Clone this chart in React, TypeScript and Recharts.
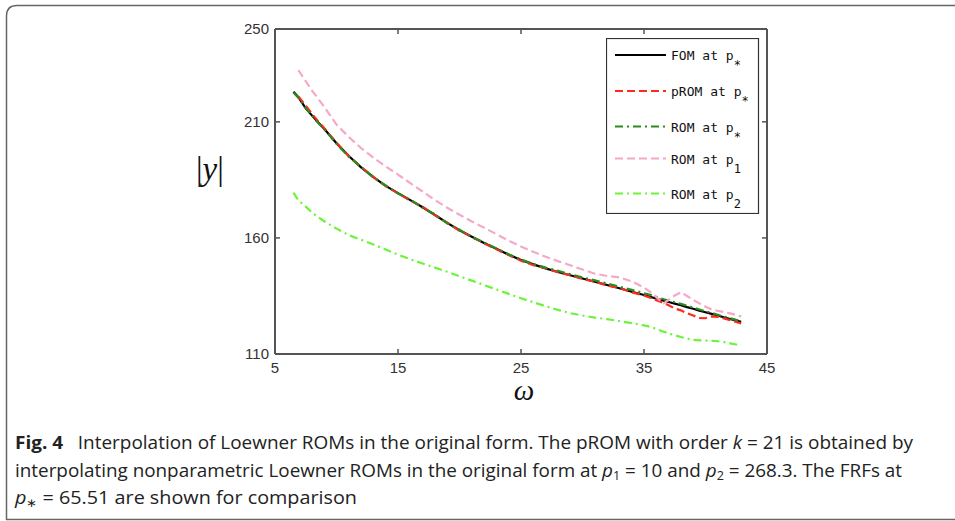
import React from 'react';
import { LineChart, Line, XAxis, YAxis, Legend } from 'recharts';

if (typeof document !== 'undefined') {
  document.body.style.margin = '0';
}

// frequency grid (ω)
const omega = [6.5, 6.9, 7.5, 8, 8.5, 9, 10, 11, 12, 13, 14, 15, 16, 17, 18, 19, 20, 21, 22, 23, 24, 25, 26, 27, 28, 29, 30, 31, 32, 33, 34, 35, 35.5, 36, 36.6, 37, 37.5, 38, 38.5, 39, 39.5, 40, 40.5, 41, 41.5, 42, 42.5, 42.9];

// |y| for each model
const fom = [223, 220.6, 215.8, 212.8, 209.8, 207, 200.8, 195.3, 190.4, 186.2, 182.4, 179.3, 176.3, 173.2, 169.9, 166.5, 163.3, 160.5, 157.8, 155.3, 152.8, 150.5, 148.6, 146.9, 145.3, 143.9, 142.5, 141.1, 139.7, 138.3, 136.8, 135.4, 134.6, 133.9, 133, 132.4, 131.7, 131, 130.2, 129.5, 128.7, 128, 127.3, 126.6, 125.8, 125.1, 124.4, 123.9];
const prom = [null, 220.9, 217, 213.5, 210.3, 207.3, 201, 195.2, 190.5, 186.3, 182.3, 179.2, 176.1, 173.4, 169.8, 166.6, 163.1, 160.6, 157.7, 155.1, 152.6, 150.2, 148.3, 147, 145.2, 144, 142.3, 141.2, 139.5, 138.5, 136.6, 135.2, 134.2, 133.2, 132, 131, 129.6, 128.8, 127.6, 126.6, 125.5, 125.4, 126.2, 126, 125.3, 124.6, 123.8, 123.2];
const romStar = [222.6, 220.4, 216, 212.6, 209.6, 206.8, 200.6, 195, 190.6, 186, 182.6, 179.1, 176.5, 173, 170.1, 166.3, 163.5, 160.3, 158, 155.4, 153, 150.7, 148.8, 147.2, 145.8, 144.4, 143, 141.7, 140.4, 139, 137.6, 136.2, 135.5, 134.6, 133.6, 133, 132.3, 131.6, 130.8, 130, 129.2, 128.4, 127.7, 126.9, 126.1, 125.4, 124.7, 124.2];
const romP1 = [null, 232.3, 227.5, 223.5, 220.1, 216.5, 208.8, 203.5, 198.7, 194.6, 190.8, 187.3, 183.6, 180, 176.3, 173, 170, 167.1, 164.4, 161.6, 158.8, 156.3, 154, 151.9, 150, 148.2, 146.4, 144.6, 143.6, 143, 141.3, 138.6, 136.8, 134.5, 131.8, 133.3, 135.2, 136.6, 135, 133.3, 131.8, 130.4, 129.2, 128.6, 128.1, 127.5, 126.8, 126.2];
const romP2 = [179.5, 176.2, 173.5, 171, 169, 167.2, 164, 161.2, 159.2, 157.2, 155, 152.8, 150.8, 149, 147.2, 145.4, 143.5, 141.6, 139.7, 137.8, 135.9, 134, 132.3, 130.6, 129, 127.6, 126.6, 125.7, 125, 124.2, 123.3, 122.3, 121.7, 120.8, 119.6, 118.9, 118.1, 117.3, 116.6, 116.1, 115.9, 115.8, 115.7, 115.5, 115.1, 114.6, 114.1, 113.7];

const xTicks = [5, 15, 25, 35, 45];
const yTicks = [110, 160, 210, 250];

const series = [
  { key: 'fom', label: 'FOM at ', sub: '*', color: '#000000', dash: undefined as string | undefined },
  { key: 'prom', label: 'pROM at ', sub: '*', color: '#ff2a1f', dash: '8 4' },
  { key: 'romStar', label: 'ROM at ', sub: '*', color: '#2e8a1e', dash: '8 4 2 4' },
  { key: 'romP1', label: 'ROM at ', sub: '1', color: '#f5a8c8', dash: '8 4' },
  { key: 'romP2', label: 'ROM at ', sub: '2', color: '#6cf43a', dash: '8 4 2 4' },
];

const data = omega.map((w, i) => ({
  w,
  fom: fom[i],
  prom: prom[i],
  romStar: romStar[i],
  romP1: romP1[i],
  romP2: romP2[i],
}));

const legendRows = [17, 53, 88.5, 120.5, 155.5];

const renderLegend = () => (
  <svg width={154} height={176} style={{ display: 'block' }}>
    <rect x={0.5} y={0.5} width={152} height={175} fill="#ffffff" stroke="#333" strokeWidth={1.2} />
    {series.map((s, i) => {
      const cy = legendRows[i];
      return (
        <g key={s.key}>
          <line x1={9} x2={60} y1={cy} y2={cy} stroke={s.color} strokeWidth={2.2} strokeDasharray={s.dash} />
          <text x={65} y={cy + 5} fontFamily="DejaVu Sans Mono" fontSize={13} fill="#111" style={{ whiteSpace: 'pre' }}>
            {s.label}p
            <tspan dy={9} fontSize={12}>{s.sub}</tspan>
          </text>
        </g>
      );
    })}
  </svg>
);

const tickStyle = { fontSize: 15, fill: '#333', fontFamily: 'Liberation Sans' };
const axisLine = { stroke: '#555', strokeWidth: 2 };
const tickLine = { stroke: '#555', strokeWidth: 1.5 };

export default function App() {
  return (
    <div style={{ position: 'relative', width: 955, height: 521, background: '#fff', overflow: 'hidden' }}>
      <LineChart
        width={955}
        height={521}
        data={data}
        margin={{ top: 28, right: 187, bottom: 137, left: 215 }}
      >
        <XAxis
          dataKey="w"
          type="number"
          domain={[5, 45]}
          ticks={xTicks}
          allowDataOverflow
          height={30}
          tickSize={-5}
          tickMargin={13}
          tick={tickStyle}
          axisLine={axisLine}
          tickLine={tickLine}
        />
        <XAxis
          xAxisId="top"
          orientation="top"
          dataKey="w"
          type="number"
          domain={[5, 45]}
          ticks={xTicks}
          allowDataOverflow
          height={1}
          tickSize={-5}
          tickFormatter={() => ''}
          axisLine={axisLine}
          tickLine={tickLine}
        />
        <YAxis
          type="number"
          domain={[110, 250]}
          ticks={yTicks}
          allowDataOverflow
          width={60}
          tickSize={-5}
          tickMargin={11}
          tick={tickStyle}
          axisLine={axisLine}
          tickLine={tickLine}
        />
        <YAxis
          yAxisId="right"
          orientation="right"
          type="number"
          domain={[110, 250]}
          ticks={yTicks}
          allowDataOverflow
          width={1}
          tickSize={-5}
          tickFormatter={() => ''}
          axisLine={axisLine}
          tickLine={tickLine}
        />
        {series.map((s) => (
          <Line
            key={s.key}
            dataKey={s.key}
            name={s.key}
            stroke={s.color}
            strokeWidth={2.2}
            strokeDasharray={s.dash}
            dot={false}
            activeDot={false}
            isAnimationActive={false}
            type="linear"
          />
        ))}
        <Line
          xAxisId="top"
          yAxisId="right"
          dataKey="fom"
          stroke="none"
          strokeWidth={0}
          dot={false}
          activeDot={false}
          legendType="none"
          isAnimationActive={false}
        />
        <Legend
          layout="vertical"
          align="center"
          verticalAlign="middle"
          content={renderLegend}
          wrapperStyle={{ position: 'absolute', left: 606, top: 38, width: 154, height: 176 }}
        />
      </LineChart>
      <svg width={955} height={521} style={{ position: 'absolute', left: 0, top: 0, pointerEvents: 'none' }}>
        <path d="M 6.5 520 L 6.5 16 Q 6.5 5.5 17 5.5 L 955 5.5" fill="none" stroke="#666" strokeWidth={1.5} />
        <line x1={6} y1={519.5} x2={955} y2={519.5} stroke="#666" strokeWidth={1.5} />
        <text x={196} y={180} fontFamily="Liberation Serif" fontSize={33} fill="#111" style={{ whiteSpace: 'pre' }}>
          |<tspan fontStyle="italic">y</tspan>|
        </text>
        <text x={524} y={400} textAnchor="middle" fontFamily="Liberation Serif" fontStyle="italic" fontSize={29} fill="#111">ω</text>
        <g fontFamily="Open Sans" fontSize={18} fill="#222">
          <text x={15} y={449} textLength={898} lengthAdjust="spacingAndGlyphs">
            <tspan fontWeight="bold">Fig. 4</tspan>
            <tspan dx={14}>Interpolation of Loewner ROMs in the original form. The pROM with order </tspan>
            <tspan fontStyle="italic">k</tspan>
            <tspan> = 21 is obtained by</tspan>
          </text>
          <text x={15} y={477} textLength={887} lengthAdjust="spacingAndGlyphs">
            <tspan>interpolating nonparametric Loewner ROMs in the original form at </tspan>
            <tspan fontStyle="italic">p</tspan>
            <tspan dy={3} fontSize={12}>1</tspan>
            <tspan dy={-3}> = 10 and </tspan>
            <tspan fontStyle="italic">p</tspan>
            <tspan dy={3} fontSize={12}>2</tspan>
            <tspan dy={-3}> = 268.3. The FRFs at</tspan>
          </text>
          <text x={15} y={504} textLength={342} lengthAdjust="spacingAndGlyphs">
            <tspan fontStyle="italic">p</tspan>
            <tspan dy={3} fontSize={12}>∗</tspan>
            <tspan dy={-3}> = 65.51 are shown for comparison</tspan>
          </text>
        </g>
      </svg>
    </div>
  );
}
